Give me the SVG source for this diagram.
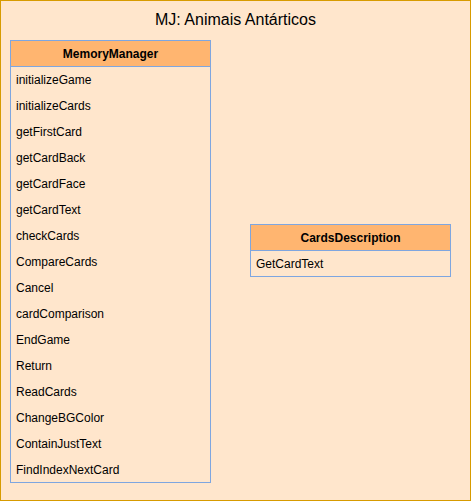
<svg xmlns="http://www.w3.org/2000/svg" width="471" height="501" viewBox="0 0 471 501">
<style>
.frame{fill:#FFE6CC;stroke:#D79B00;stroke-width:1}
.hdr{fill:#FFB570;stroke:#7EA6E0;stroke-width:1}
.body{fill:#FFE6CC;stroke:#7EA6E0;stroke-width:1}
.t{font-family:"Liberation Sans",Arial,sans-serif;font-size:12px;fill:#000}
.h{font-family:"Liberation Sans",Arial,sans-serif;font-size:12px;font-weight:bold;fill:#000;text-anchor:middle}
.title{font-family:"Liberation Sans",Arial,sans-serif;font-size:16px;fill:#000;text-anchor:middle}
</style>
<g id="frame">
<rect class="frame" x="0.5" y="0.5" width="470" height="500"/>
<text class="title" x="235.5" y="25">MJ: Animais Antárticos</text>
</g>
<g id="MemoryManager">
<rect class="body" x="10.5" y="40.5" width="200" height="442"/>
<rect class="hdr" x="10.5" y="40.5" width="200" height="26"/>
<text class="h" x="110.5" y="58">MemoryManager</text>
<text class="t" x="16" y="84">initializeGame</text>
<text class="t" x="16" y="110">initializeCards</text>
<text class="t" x="16" y="136">getFirstCard</text>
<text class="t" x="16" y="162">getCardBack</text>
<text class="t" x="16" y="188">getCardFace</text>
<text class="t" x="16" y="214">getCardText</text>
<text class="t" x="16" y="240">checkCards</text>
<text class="t" x="16" y="266">CompareCards</text>
<text class="t" x="16" y="292">Cancel</text>
<text class="t" x="16" y="318">cardComparison</text>
<text class="t" x="16" y="344">EndGame</text>
<text class="t" x="16" y="370">Return</text>
<text class="t" x="16" y="396">ReadCards</text>
<text class="t" x="16" y="422">ChangeBGColor</text>
<text class="t" x="16" y="448">ContainJustText</text>
<text class="t" x="16" y="474">FindIndexNextCard</text>
</g>
<g id="CardsDescription">
<rect class="body" x="250.5" y="224.5" width="200" height="52"/>
<rect class="hdr" x="250.5" y="224.5" width="200" height="26"/>
<text class="h" x="350.5" y="242">CardsDescription</text>
<text class="t" x="256" y="268">GetCardText</text>
</g>
<g id="connectors"></g>
</svg>
